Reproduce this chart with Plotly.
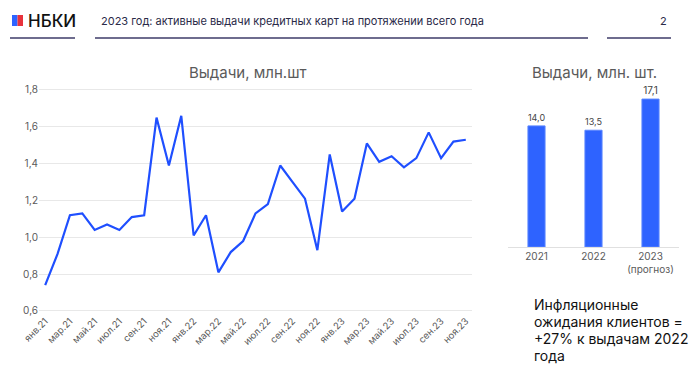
import plotly.graph_objects as go

months = ["янв.21","фев.21","мар.21","апр.21","май.21","июн.21","июл.21","авг.21","сен.21","окт.21","ноя.21","дек.21",
          "янв.22","фев.22","мар.22","апр.22","май.22","июн.22","июл.22","авг.22","сен.22","окт.22","ноя.22","дек.22",
          "янв.23","фев.23","мар.23","апр.23","май.23","июн.23","июл.23","авг.23","сен.23","окт.23","ноя.23"]
issuance = [0.74, 0.91, 1.12, 1.13, 1.04, 1.07, 1.04, 1.11, 1.12, 1.65, 1.39, 1.66,
            1.01, 1.12, 0.81, 0.92, 0.98, 1.13, 1.18, 1.39, 1.30, 1.21, 0.93, 1.45,
            1.14, 1.21, 1.51, 1.41, 1.44, 1.38, 1.43, 1.57, 1.43, 1.52, 1.53]
y_ticks = [0.6, 0.8, 1.0, 1.2, 1.4, 1.6, 1.8]

years = ["2021", "2022", "2023<br>(прогноз)"]
yearly = [14.0, 13.5, 17.1]
yearly_labels = ["14,0", "13,5", "17,1"]

note_lines = ["Инфляционные", "ожидания клиентов =", "+27% к выдачам 2022", "года"]

W, H = 700, 381
def px(x): return x / W
def py(y): return 1 - y / H

FONT = "Inter"
GRAY = "#5a5a5a"

fig = go.Figure()
xi = list(range(len(months)))
fig.add_trace(go.Scatter(x=xi, y=issuance, mode="lines",
                         line=dict(color="#1f4fff", width=2.2),
                         xaxis="x", yaxis="y", showlegend=False, hoverinfo="skip"))
fig.add_trace(go.Bar(x=years, y=yearly, text=yearly_labels, textposition="outside",
                     textfont=dict(size=10, color="#444444", family=FONT),
                     marker=dict(color="#2e63ff", line=dict(color="#5a85ff", width=1)),
                     width=0.3, cliponaxis=False,
                     xaxis="x2", yaxis="y2", showlegend=False, hoverinfo="skip"))

ymin, ymax = 0.59, 1.81
pu = (311 - 90) / 1.2
top_px = 90 - (ymax - 1.8) * pu
bot_px = 311 + (0.6 - ymin) * pu

layout = dict(
    width=W, height=H, margin=dict(l=0, r=0, t=0, b=0, pad=0, autoexpand=False),
    paper_bgcolor="white", plot_bgcolor="white",
    separators=", ",
    font=dict(family=FONT, color=GRAY),
    xaxis=dict(domain=[px(39), px(472)], range=[-0.5, len(months) - 0.5],
               tickvals=xi[::2], ticktext=months[::2], tickangle=-45,
               tickfont=dict(size=9.5, color=GRAY), showgrid=False, zeroline=False,
               showline=False, ticks="", anchor="y", automargin=False),
    yaxis=dict(domain=[py(bot_px), py(top_px)], range=[ymin, ymax],
               tickvals=y_ticks, tickformat=".1f", tickfont=dict(size=10, color=GRAY),
               gridcolor="#e8e8e8", gridwidth=1, zeroline=False, showline=False,
               ticks="", anchor="x", automargin=False),
    xaxis2=dict(domain=[px(508), px(679)], tickfont=dict(size=10, color=GRAY),
                showline=True, linecolor="#e0e0e0", linewidth=1, ticks="",
                anchor="y2", type="category", automargin=False),
    yaxis2=dict(domain=[py(247), py(74)], range=[0, 20], visible=False,
                showgrid=False, zeroline=False, anchor="x2", automargin=False),
    bargap=0.7,
)
fig.update_layout(**layout)

def A(text, x, y, size, color, xanchor="center", weight=None):
    f = dict(size=size, color=color, family=FONT)
    if weight:
        f["weight"] = weight
    return dict(text=text, x=px(x), y=py(y), xref="paper", yref="paper",
                xanchor=xanchor, yanchor="middle", showarrow=False, font=f)

ann = [
    A("Выдачи, млн.шт", 247, 72, 15, GRAY),
    A("Выдачи, млн. шт.", 594, 73, 15, GRAY),
    A("НБКИ", 26, 21, 17, "#111111", xanchor="left", weight=500),
    A("2023 год: активные выдачи кредитных карт на протяжении всего года", 99, 21, 11, "#2a2a48", xanchor="left"),
    A("2", 663, 21, 11, "#2a2a48"),
]
for i, t in enumerate(note_lines):
    ann.append(A(t, 532, 304 + i * 17, 14, "#111111", xanchor="left"))
fig.update_layout(annotations=ann)

shapes = []
for x0, x1 in [(10, 75), (95, 588), (607, 671)]:
    shapes.append(dict(type="line", xref="paper", yref="paper", x0=px(x0), x1=px(x1),
                       y0=py(38), y1=py(38), line=dict(color="#6e6c8e", width=2)))
shapes.append(dict(type="rect", xref="paper", yref="paper", x0=px(12), x1=px(17.5),
                   y0=py(26), y1=py(15), fillcolor="#2e63ff", line=dict(width=0)))
shapes.append(dict(type="rect", xref="paper", yref="paper", x0=px(17.5), x1=px(23),
                   y0=py(26), y1=py(15), fillcolor="#e8323c", line=dict(width=0)))
fig.update_layout(shapes=shapes)

fig.write_html("out.html", config={"displayModeBar": False},
               post_script="document.body.style.margin='0';document.body.style.overflow='hidden';")
